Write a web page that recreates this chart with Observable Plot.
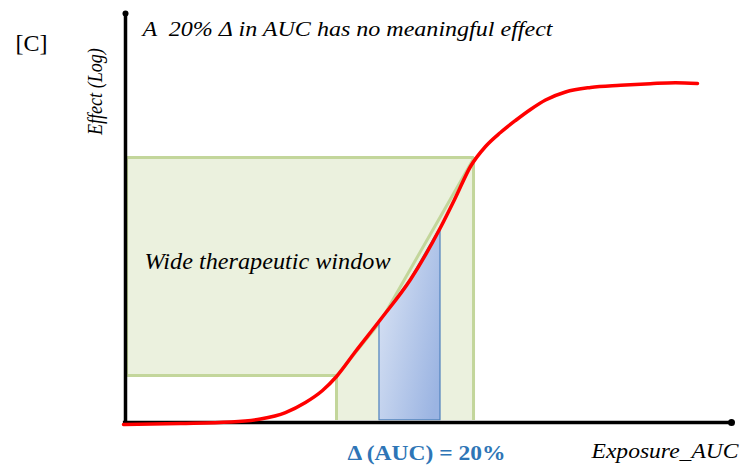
<!DOCTYPE html>
<html><head><meta charset="utf-8">
<script src="https://cdn.jsdelivr.net/npm/d3@7"></script>
<script src="https://cdn.jsdelivr.net/npm/@observablehq/plot@0.6"></script>
<style>body{margin:0;background:#fff}</style>
</head><body><div id="chart"></div>
<script>
// Dose–response (sigmoid) curve (x: exposure, y: effect), 0–100 units
const curveX = [-0.33, 9.08, 17.33, 22.28, 26.40, 29.70, 32.51, 34.82, 37.95, 42.08, 47.03, 51.98, 54.46, 56.93, 59.41, 61.88, 64.36, 66.83, 69.31, 72.61, 76.73, 81.68, 86.63, 90.76, 94.39];
const curveY = [-0.49, -0.24, 0.12, 0.86, 2.44, 4.89, 7.82, 11.25, 17.36, 25.18, 34.96, 47.68, 55.01, 62.59, 67.48, 70.90, 73.84, 76.53, 78.85, 80.81, 81.91, 82.44, 82.84, 83.08, 82.89];

// Δ(AUC) = 20% band (blue area under the curve)
const deltaX = [41.91, 47.03, 51.98];
const deltaTop = [24.69, 34.96, 47.68];
const deltaBase = 0.55;

// Wide therapeutic window (green region)
const windowRectX1 = [0.17, 34.82];
const windowRectX2 = [34.82, 57.43];
const windowRectY1 = [11.49, 0.49];
const windowRectY2 = [64.79, 64.79];
const windowOutlineX = [0.17, 57.43, 57.26, 42.08, 34.9, 0.17, 0.17];
const windowOutlineY = [64.79, 64.79, 64.06, 24.7, 11.49, 11.49, 64.79];
const windowEdgesX = [34.82, 57.43];
const windowEdgesTop = [11.49, 64.79];
const windowEdgesBottom = [0.49, 0.49];

// Texts
const panelLabel = "[C]";
const titleText = "A  20% Δ in AUC has no meaningful effect";
const yLabel = "Effect (Log)";
const xLabel = "Exposure_AUC";
const windowLabel = "Wide therapeutic window";
const deltaLabel = "Δ (AUC) = 20%";

const curve = curveX.map((x, i) => ({x, y: curveY[i]}));
const delta = deltaX.map((x, i) => ({x, y1: deltaBase, y2: deltaTop[i]}));
const rects = windowRectX1.map((x1, i) => ({x1, x2: windowRectX2[i], y1: windowRectY1[i], y2: windowRectY2[i]}));
const outline = windowOutlineX.map((x, i) => ({x, y: windowOutlineY[i]}));
const edges = windowEdgesX.map((x, i) => ({x, y1: windowEdgesBottom[i], y2: windowEdgesTop[i]}));

const serif = "'Liberation Serif', 'Times New Roman', Times, serif";

const svg = Plot.plot({
  width: 740,
  height: 466,
  marginLeft: 125,
  marginRight: 9,
  marginTop: 13,
  marginBottom: 44,
  x: {domain: [0, 100], axis: null},
  y: {domain: [0, 100], axis: null},
  style: {background: "#fff", overflow: "visible", fontFamily: serif},
  marks: [
    Plot.rect(rects, {x1: "x1", x2: "x2", y1: "y1", y2: "y2", fill: "#EBF1DE", inset: 0}),
    Plot.line(outline, {x: "x", y: "y", stroke: "#C3D69B", strokeWidth: 3, strokeLinejoin: "miter"}),
    Plot.ruleX(edges, {x: "x", y1: "y1", y2: "y2", stroke: "#C3D69B", strokeWidth: 3}),
    Plot.areaY(delta, {x: "x", y1: "y1", y2: "y2", fill: "url(#deltaGrad)", stroke: "#4F81BD", strokeWidth: 1.2, fillOpacity: 1}),
    Plot.ruleX([0], {x: d => d, y1: () => -0.3, y2: () => 100, stroke: "#000", strokeWidth: 3.5}),
    Plot.ruleY([0], {y: d => d, x1: () => -0.35, x2: () => 100, stroke: "#000", strokeWidth: 3.5}),
    Plot.dot([0], {x: () => 0, y: () => 100, r: 3, fill: "#000", stroke: null}),
    Plot.dot([0], {x: () => 100, y: () => 0, r: 3.5, fill: "#000", stroke: null}),
    Plot.line(curve, {x: "x", y: "y", stroke: "#FF0000", strokeWidth: 3.5, curve: "monotone-x"}),
    Plot.text([panelLabel], {x: () => -18.15, y: () => 90.95, text: d => d, textAnchor: "start", lineAnchor: "bottom", fontFamily: serif, fontSize: 24, fill: "#000"}),
    Plot.text([titleText], {x: () => 2.81, y: () => 94.38, text: d => d, textAnchor: "start", lineAnchor: "bottom", fontFamily: serif, fontStyle: "italic", fontSize: 20, fill: "#000"}),
    Plot.text([yLabel], {x: () => -4.95, y: () => 80.9, text: d => d, rotate: -90, textAnchor: "middle", lineAnchor: "middle", fontFamily: serif, fontStyle: "italic", fontSize: 21, fill: "#000"}),
    Plot.text([windowLabel], {x: () => 3.14, y: () => 37.65, text: d => d, textAnchor: "start", lineAnchor: "bottom", fontFamily: serif, fontStyle: "italic", fontSize: 24, fill: "#000"}),
    Plot.text([deltaLabel], {x: () => 36.63, y: () => -9.29, text: d => d, textAnchor: "start", lineAnchor: "bottom", fontFamily: serif, fontWeight: "bold", fontSize: 22, fill: "#2E75B6"}),
    Plot.text([xLabel], {x: () => 76.9, y: () => -8.56, text: d => d, textAnchor: "start", lineAnchor: "bottom", fontFamily: serif, fontStyle: "italic", fontSize: 22, fill: "#000"})
  ]
});

// gradient definition for the Δ(AUC) band
const defs = d3.select(svg).insert("defs", ":first-child");
const g = defs.append("linearGradient").attr("id", "deltaGrad")
  .attr("x1", "0").attr("y1", "0.2").attr("x2", "1").attr("y2", "0.8");
g.append("stop").attr("offset", "0").attr("stop-color", "#D9E3F4");
g.append("stop").attr("offset", "1").attr("stop-color", "#9BB4E2");

// stretch texts to the measured widths of the reference
const lengths = new Map([[titleText, 410], [yLabel, 87], [deltaLabel, 158], [xLabel, 147], [windowLabel, 246]]);
svg.querySelectorAll("text").forEach(t => {
  const L = lengths.get(t.textContent);
  if (L) { t.setAttribute("textLength", L); t.setAttribute("lengthAdjust", "spacingAndGlyphs"); }
  t.style.fontFamily = serif;
});

document.getElementById("chart").appendChild(svg);
</script></body></html>
